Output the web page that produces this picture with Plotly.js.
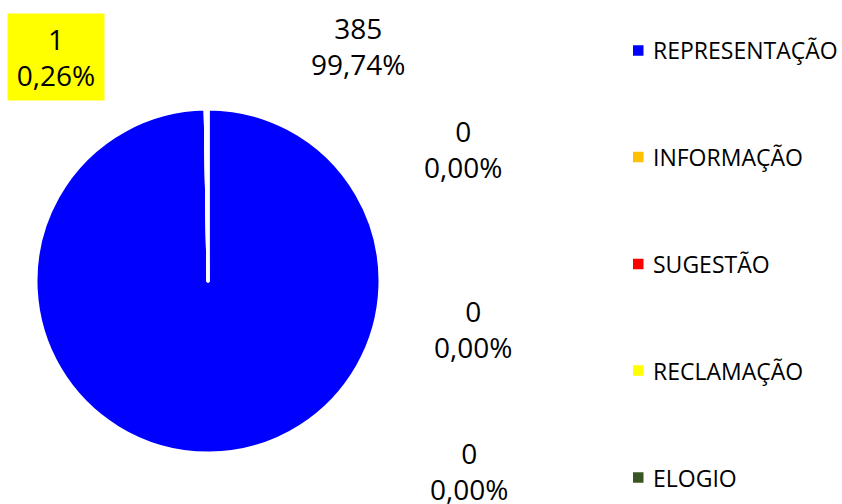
<!DOCTYPE html>
<html>
<head>
<meta charset="utf-8">
<script src="https://cdn.plot.ly/plotly-3.0.1.min.js"></script>
<style>html,body{margin:0;padding:0;background:#fff;}#chart{width:842px;height:504px;}</style>
</head>
<body>
<div id="chart"></div>
<script>
// ---- data ----
const categories = ["REPRESENTAÇÃO", "INFORMAÇÃO", "SUGESTÃO", "RECLAMAÇÃO", "ELOGIO"];
const values = [385, 0, 0, 1, 0];
const colors = ["#0000FF", "#FFC000", "#FF0000", "#FFFF00", "#375623"];

// ---- layout helpers (pixel positions) ----
const W = 842, H = 504;
const px = x => x / W;
const py = y => 1 - y / H;

const total = values.reduce((a, b) => a + b, 0);
const pctText = v => (v / total * 100).toFixed(2).replace('.', ',') + '%';

// data label positions (centre of text block), per category
const labelPos = [
  [358, 46],   // REPRESENTAÇÃO
  [463, 149],  // INFORMAÇÃO
  [473, 329],  // SUGESTÃO
  [56, 57],    // RECLAMAÇÃO
  [469, 471]   // ELOGIO
];
const legendY = [50.5, 157, 264, 370.5, 477.5];

const annotations = [];
const shapes = [];
categories.forEach((c, i) => {
  const isRecl = i === 3;
  const a = {
    xref: 'paper', yref: 'paper',
    x: px(labelPos[i][0]), y: py(labelPos[i][1]),
    xanchor: 'center', yanchor: 'middle',
    text: values[i] + '<br>' + pctText(values[i]),
    showarrow: false,
    align: 'center',
    font: {family: 'Open Sans, sans-serif', size: 28, color: '#000000'}
  };
  if (isRecl) {
    a.bgcolor = colors[i];
    a.borderpad = 7;
    a.width = 82;
    a.height = 72;
  }
  annotations.push(a);
  // legend entry
  annotations.push({
    xref: 'paper', yref: 'paper',
    x: px(651), y: py(legendY[i]),
    xanchor: 'left', yanchor: 'middle',
    text: c, showarrow: false,
    font: {family: 'Open Sans, sans-serif', size: 23, color: '#000000'}
  });
  shapes.push({
    type: 'rect', xref: 'paper', yref: 'paper',
    x0: px(633), x1: px(643.5),
    y0: py(legendY[i] + 5.25), y1: py(legendY[i] - 5.25),
    fillcolor: colors[i], line: {width: 0}
  });
});

const trace = {
  type: 'pie',
  labels: categories,
  values: values,
  sort: false,
  direction: 'clockwise',
  rotation: 0,
  marker: {colors: colors, line: {color: '#FFFFFF', width: 3}},
  textinfo: 'none',
  hoverinfo: 'label+value+percent',
  showlegend: false,
  domain: {x: [px(36), px(380)], y: [py(453), py(109)]}
};

const layout = {
  width: W, height: H,
  margin: {l: 0, r: 0, t: 0, b: 0},
  paper_bgcolor: '#FFFFFF',
  plot_bgcolor: '#FFFFFF',
  showlegend: false,
  annotations: annotations,
  shapes: shapes
};

Plotly.newPlot('chart', [trace], layout, {displayModeBar: false, staticPlot: true});
</script>
</body>
</html>
